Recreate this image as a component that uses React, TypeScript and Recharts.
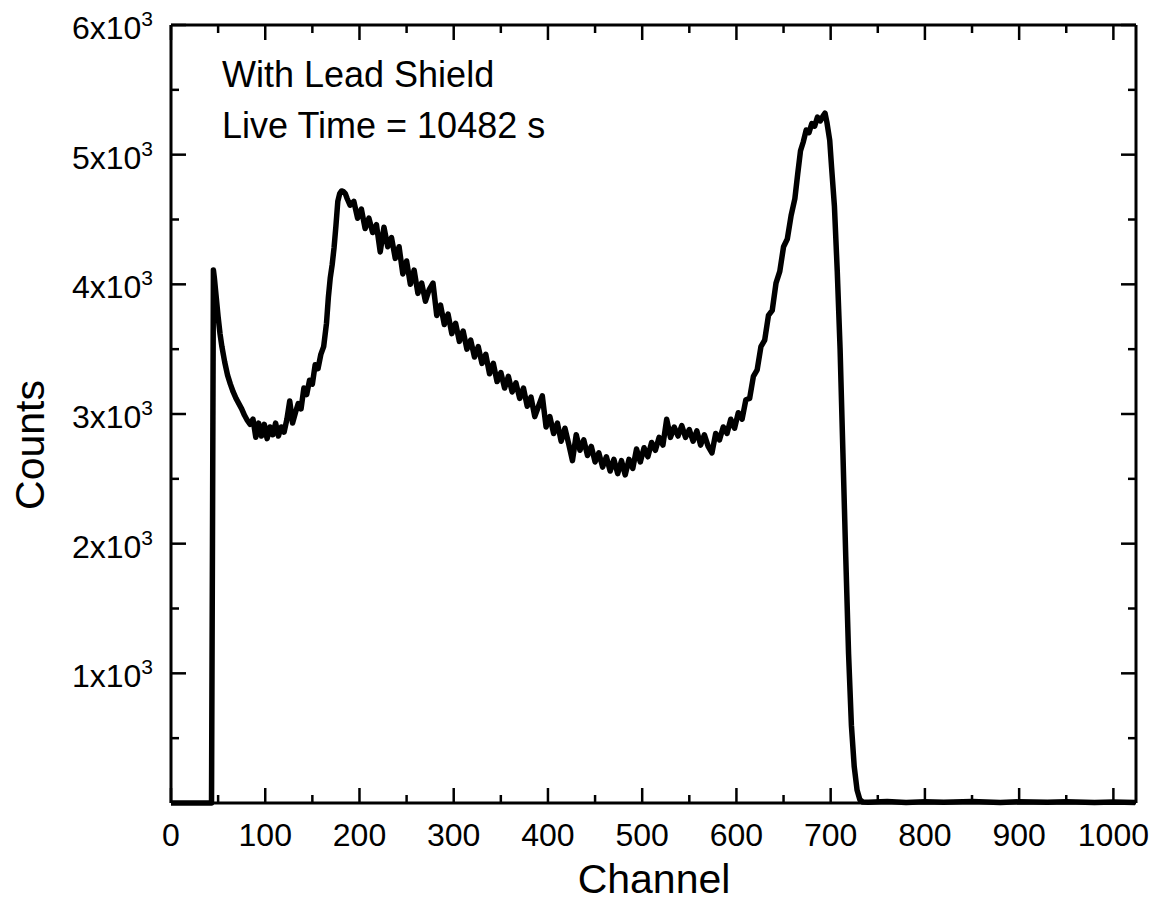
import { LineChart, Line, XAxis, YAxis } from 'recharts';

// rising edge + low energy tail
const edgeChannels = [0, 20, 43, 44, 45, 46, 48, 50, 52, 54, 57, 60, 63, 66, 69, 72, 75, 78, 81, 84];
const edgeCounts = [0, 0, 0, 2000, 4110, 4050, 3900, 3750, 3620, 3520, 3400, 3300, 3230, 3170, 3120, 3080, 3040, 2990, 2950, 2920];

// valley and backscatter peak
const valleyChannels = [
  87, 90, 93, 96, 99, 102, 105, 108, 111, 114, 117, 120, 123, 126, 129, 132,
  135, 138, 141, 144, 147, 150, 153, 156, 159, 162, 165,
  167, 169, 171, 173, 175, 177, 179, 181, 183, 185, 187,
];
const valleyCounts = [
  2960, 2820, 2930, 2830, 2920, 2810, 2900, 2840, 2930, 2830, 2900, 2860, 2960, 3100, 2930, 3010,
  3080, 3040, 3200, 3150, 3260, 3230, 3380, 3350, 3460, 3520, 3700,
  3900, 4050, 4150, 4280, 4450, 4640, 4700, 4720, 4715, 4700, 4660,
];

// compton continuum
const slopeChannels = [
  190, 194, 198, 202, 206, 210, 214, 218, 222, 226,
  230, 234, 238, 242, 246, 250, 254, 258, 262, 266,
  270, 274, 278, 282, 286, 290, 294, 298, 302, 306,
  310, 314, 318, 322, 326, 330, 334, 338, 342, 346,
  350, 354, 358, 362, 366, 370, 374, 378, 382, 386,
  390, 394, 398, 402, 406, 410, 414, 418, 422, 426,
  430, 434, 438, 442, 446, 450, 454, 458, 462, 466,
  470, 474, 478, 482, 486, 490, 494, 498, 502, 506,
  510, 514, 518, 522, 526, 530, 534, 538, 542, 546,
  550, 554, 558, 562, 566, 570, 574, 578, 582, 586,
  590, 594, 598, 602, 606, 610, 614, 618, 622, 626,
  630, 634, 638, 642, 646, 650, 654, 658, 662,
];
const slopeCounts = [
  4610, 4640, 4510, 4580, 4430, 4510, 4400, 4460, 4250, 4440,
  4290, 4360, 4200, 4290, 4080, 4180, 4000, 4110, 3930, 4010,
  3870, 3960, 4010, 3760, 3840, 3690, 3770, 3620, 3700, 3560,
  3640, 3500, 3570, 3440, 3520, 3390, 3460, 3310, 3390, 3250,
  3320, 3200, 3290, 3170, 3240, 3120, 3200, 3060, 3130, 2980,
  3060, 3140, 2900, 2980, 2850, 2930, 2790, 2890, 2770, 2640,
  2840, 2720, 2800, 2680, 2750, 2630, 2700, 2590, 2670, 2560,
  2650, 2540, 2640, 2530, 2650, 2580, 2730, 2630, 2740, 2670,
  2780, 2720, 2820, 2760, 2960, 2820, 2900, 2830, 2910, 2820,
  2880, 2790, 2870, 2760, 2840, 2750, 2700, 2850, 2800, 2900,
  2850, 2960, 2890, 3010, 2960, 3110, 3120, 3290, 3340, 3520,
  3570, 3760, 3800, 4010, 4100, 4290, 4350, 4530, 4660,
];

// photopeak
const peakChannels = [665, 668, 671, 674, 677, 680, 683, 686, 689, 692, 694, 696, 699, 701, 704, 707, 710, 713, 716, 719, 722, 725, 728, 731, 734];
const peakCounts = [4850, 5030, 5100, 5190, 5170, 5240, 5220, 5290, 5260, 5300, 5320, 5250, 5110, 4900, 4600, 4100, 3500, 2700, 1900, 1150, 600, 280, 100, 25, 8];

const tailChannels = [740, 760, 780, 800, 820, 850, 880, 900, 930, 950, 980, 1000, 1023];
const tailCounts = [5, 12, 4, 10, 6, 11, 4, 9, 5, 10, 4, 7, 3];

const xTicks = [0, 50, 100, 150, 200, 250, 300, 350, 400, 450, 500, 550, 600, 650, 700, 750, 800, 850, 900, 950, 1000];
const yTicks = [500, 1000, 1500, 2000, 2500, 3000, 3500, 4000, 4500, 5000, 5500, 6000];

const channels = [...edgeChannels, ...valleyChannels, ...slopeChannels, ...peakChannels, ...tailChannels];
const counts = [...edgeCounts, ...valleyCounts, ...slopeCounts, ...peakCounts, ...tailCounts];
const data = channels.map((c, i) => ({ channel: c, counts: counts[i] }));

const FONT = '"Liberation Sans", Arial, sans-serif';
const MAJOR = 15;
const MINOR = 8;

const BottomTick = ({ x, y, payload }: any) => {
  const major = payload.value % 100 === 0;
  return (
    <g>
      <line x1={x} x2={x} y1={y} y2={y - (major ? MAJOR : MINOR)} stroke="#000" strokeWidth={2.5} />
      {major && (
        <text x={x} y={y + 43} textAnchor="middle" fontSize={32} fontFamily={FONT} fill="#000">
          {payload.value}
        </text>
      )}
    </g>
  );
};

const TopTick = ({ x, y, payload }: any) => {
  const major = payload.value % 100 === 0;
  return <line x1={x} x2={x} y1={y} y2={y + (major ? MAJOR : MINOR)} stroke="#000" strokeWidth={2.5} />;
};

const LeftTick = ({ x, y, payload }: any) => {
  const major = payload.value % 1000 === 0;
  return (
    <g>
      <line x1={x} x2={x + (major ? MAJOR : MINOR)} y1={y} y2={y} stroke="#000" strokeWidth={2.5} />
      {major && (
        <text x={x - 18} y={y + 14} textAnchor="end" fontSize={32} fontFamily={FONT} fill="#000">
          <tspan>{payload.value / 1000}x10</tspan>
          <tspan dy={-13} fontSize={21}>3</tspan>
        </text>
      )}
    </g>
  );
};

const RightTick = ({ x, y, payload }: any) => {
  const major = payload.value % 1000 === 0;
  return <line x1={x} x2={x - (major ? MAJOR : MINOR)} y1={y} y2={y} stroke="#000" strokeWidth={2.5} />;
};

export default function App() {
  return (
    <div style={{ position: 'absolute', left: 0, top: 0, background: '#fff' }}>
      <LineChart width={1154} height={916} data={data} margin={{ top: 24, right: 17, bottom: 0, left: 0 }}>
        <XAxis
          xAxisId="bottom"
          dataKey="channel"
          type="number"
          domain={[0, 1024]}
          ticks={xTicks}
          interval={0}
          height={113}
          tickSize={0}
          tickMargin={0}
          tickLine={false}
          axisLine={{ stroke: '#000', strokeWidth: 3 }}
          tick={<BottomTick />}
        />
        <XAxis
          xAxisId="top"
          orientation="top"
          dataKey="channel"
          type="number"
          domain={[0, 1024]}
          ticks={xTicks}
          interval={0}
          height={1}
          tickSize={0}
          tickMargin={0}
          tickLine={false}
          axisLine={{ stroke: '#000', strokeWidth: 3 }}
          tick={<TopTick />}
        />
        <YAxis
          yAxisId="left"
          type="number"
          domain={[0, 6000]}
          ticks={yTicks}
          interval={0}
          width={171}
          tickSize={0}
          tickMargin={0}
          tickLine={false}
          axisLine={{ stroke: '#000', strokeWidth: 3 }}
          tick={<LeftTick />}
        />
        <YAxis
          yAxisId="right"
          orientation="right"
          type="number"
          domain={[0, 6000]}
          ticks={yTicks}
          interval={0}
          width={1}
          tickSize={0}
          tickMargin={0}
          tickLine={false}
          axisLine={{ stroke: '#000', strokeWidth: 3 }}
          tick={<RightTick />}
        />
        <Line
          xAxisId="bottom"
          yAxisId="left"
          type="linear"
          dataKey="counts"
          stroke="#000"
          strokeWidth={5.5}
          strokeLinejoin="round"
          dot={false}
          isAnimationActive={false}
        />
        {/* invisible copy so the mirrored top/right axes have a series */}
        <Line
          xAxisId="top"
          yAxisId="right"
          type="linear"
          dataKey="counts"
          stroke="none"
          dot={false}
          activeDot={false}
          isAnimationActive={false}
        />
        <text x={222} y={87} fontSize={36} fontFamily={FONT} fill="#000">With Lead Shield</text>
        <text x={222} y={138} fontSize={36} fontFamily={FONT} fill="#000">Live Time = 10482 s</text>
        <text x={654} y={893} fontSize={41} fontFamily={FONT} fill="#000" textAnchor="middle">Channel</text>
        <text x={44} y={445} fontSize={41} fontFamily={FONT} fill="#000" textAnchor="middle" transform="rotate(-90 44 445)">Counts</text>
      </LineChart>
    </div>
  );
}
